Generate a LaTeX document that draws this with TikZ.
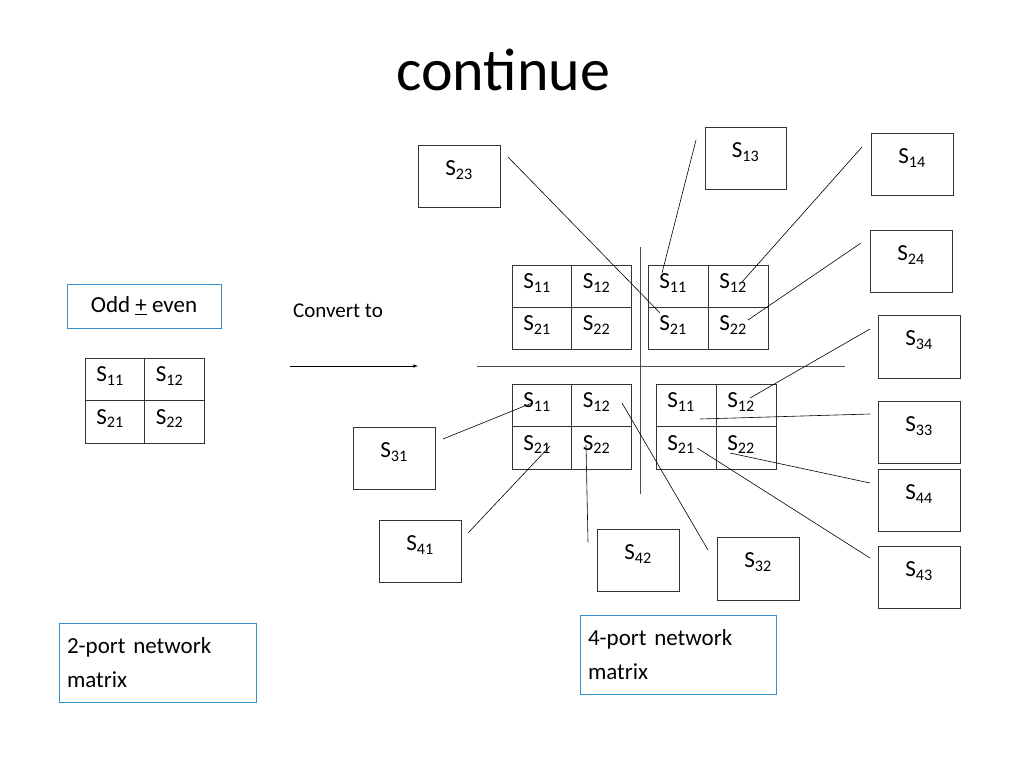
\documentclass[tikz,border=0pt]{standalone}
\usepackage{fontspec}
\setmainfont{Carlito}
\begin{document}
\begin{tikzpicture}[x=1pt,y=-1pt,
  bx/.style={draw=black!80,line width=0.6pt},
  lab/.style={font=\fontsize{23}{25}\selectfont,inner sep=0pt},
  lk/.style={line width=0.6pt},
  blue box/.style={draw=blue!40!cyan!60!gray,line width=0.6pt}]
\useasboundingbox (0,0) rectangle (1024,768);
\node[font=\fontsize{60}{66}\selectfont] (title) at (503,70) {continue};
\newcommand{\smat}[5]{%
  \draw[bx] (#2,#3) rectangle (#4,#5);
  \draw[bx] ({(#2+#4)/2},#3) -- ({(#2+#4)/2},#5);
  \draw[bx] (#2,{(#3+#5)/2}) -- (#4,{(#3+#5)/2});
  \node[lab] (#1a) at ({#2+25},{#3+18}) {S\textsubscript{11}};
  \node[lab] (#1b) at ({(#2+#4)/2+25},{#3+18}) {S\textsubscript{12}};
  \node[lab] (#1c) at ({#2+25},{(#3+#5)/2+18}) {S\textsubscript{21}};
  \node[lab] (#1d) at ({(#2+#4)/2+25},{(#3+#5)/2+18}) {S\textsubscript{22}};
}
\smat{L}{85}{358}{204}{443}
\smat{A}{512}{265}{631}{349}
\smat{B}{648}{265}{768}{349}
\smat{C}{512}{384}{631}{469}
\smat{D}{656}{384}{776}{469}
\draw[line width=1pt,black!70] (640,247) -- (640,494);
\draw[line width=1pt,black!70] (477,366) -- (845,366);
\newcommand{\mysbox}[6]{%
  \draw[bx] (#2,#3) rectangle (#4,#5);
  \node[lab] (#1) at ({(#2+#4)/2},{#3+25}) {S\textsubscript{#6}};
}
\mysbox{s23}{418}{145}{500}{207}{23}
\mysbox{s13}{705}{127}{786}{189}{13}
\mysbox{s14}{871}{133}{953}{195}{14}
\mysbox{s24}{870}{230}{952}{292}{24}
\mysbox{s34}{878}{315}{960}{378}{34}
\mysbox{s33}{878}{401}{960}{463}{33}
\mysbox{s44}{878}{469}{960}{531}{44}
\mysbox{s43}{878}{546}{960}{608}{43}
\mysbox{s32}{717}{537}{799}{600}{32}
\mysbox{s42}{597}{529}{679}{591}{42}
\mysbox{s41}{379}{520}{461}{582}{41}
\mysbox{s31}{353}{427}{435}{489}{31}
\coordinate (e23) at (508,157); \coordinate (f23) at (660,313);
\coordinate (e13) at (696,140); \coordinate (f13) at (662,273);
\coordinate (e14) at (862,147); \coordinate (f14) at (742,282);
\coordinate (e24) at (861,243); \coordinate (f24) at (748,320);
\coordinate (e34) at (870,329); \coordinate (f34) at (750,398);
\coordinate (e33) at (870,414); \coordinate (f33) at (700,419);
\coordinate (e44) at (870,483); \coordinate (f44) at (730,453);
\coordinate (e43) at (870,558); \coordinate (f43) at (697,448);
\coordinate (e32) at (708,550); \coordinate (f32) at (622,403);
\coordinate (e42) at (588,542); \coordinate (f42) at (586,445);
\coordinate (e41) at (468,533); \coordinate (f41) at (550,446);
\coordinate (e31) at (443,439); \coordinate (f31) at (532,403);
\foreach \k in {23,13,14,24,34,33,44,43,32,42,41,31} \draw[lk] (e\k) -- (f\k);
\node[blue box,font=\fontsize{23}{25}\selectfont,minimum width=154pt,minimum height=44pt,inner sep=0pt] (oe) at (144,306) {Odd \underline{+} even};
\node[font=\fontsize{21}{23}\selectfont] (cv) at (338,311) {Convert to};
\coordinate (a1) at (290,366); \coordinate (a2) at (418,366);
\draw[lk,-latex] (a1) -- (a2);
\node[blue box,font=\fontsize{23}{34}\selectfont,minimum width=197pt,minimum height=79pt,align=left,text width=181pt,inner sep=8pt] (p2) at (157.5,662.5) {2-port network\\matrix};
\node[blue box,font=\fontsize{23}{34}\selectfont,minimum width=196pt,minimum height=79pt,align=left,text width=180pt,inner sep=8pt] (p4) at (678,654.5) {4-port network\\matrix};
\end{tikzpicture}
\end{document}
